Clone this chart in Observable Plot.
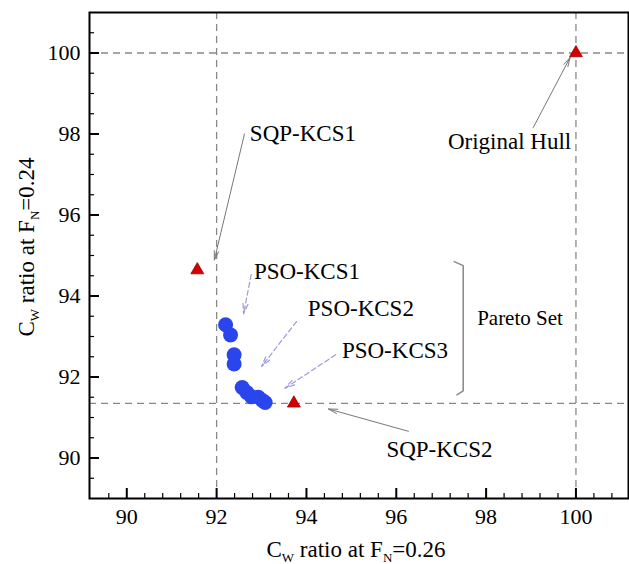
<!DOCTYPE html>
<html><head><meta charset="utf-8">
<script src="https://cdn.jsdelivr.net/npm/d3@7"></script>
<script src="https://cdn.jsdelivr.net/npm/@observablehq/plot@0.6"></script>
<style>body{margin:0;background:#fff} #chart svg{display:block}</style>
</head><body><div id="chart"></div>
<script>
// tick values
const xMajorTicks = [90, 92, 94, 96, 98, 100];
const xMinorTicks = [89.6, 90.4, 90.8, 91.2, 91.6, 92.4, 92.8, 93.2, 93.6, 94.4, 94.8, 95.2, 95.6, 96.4, 96.8, 97.2, 97.6, 98.4, 98.8, 99.2, 99.6, 100.4, 100.8];
const yMajorTicks = [90, 92, 94, 96, 98, 100];
const yMinorTicks = [89.5, 90.5, 91, 91.5, 92.5, 93, 93.5, 94.5, 95, 95.5, 96.5, 97, 97.5, 98.5, 99, 99.5, 100.5];
// reference lines
const refX = [92, 100];
const refY = [100, 91.35];
// SQP designs (red triangles)
const sqpNames = ["Original Hull", "SQP-KCS1", "SQP-KCS2"];
const sqpX = [100, 91.57, 93.72];
const sqpY = [100, 94.64, 91.35];
// PSO Pareto set (blue dots)
const psoX = [92.20, 92.31, 92.39, 92.39, 92.57, 92.67, 92.78, 92.93, 93.02, 93.08];
const psoY = [93.29, 93.04, 92.55, 92.32, 91.74, 91.62, 91.51, 91.50, 91.42, 91.37];
// annotation labels
const labelText = ["SQP-KCS1", "Original Hull", "PSO-KCS1", "PSO-KCS2", "PSO-KCS3", "SQP-KCS2"];
const labelX = [92.74, 97.15, 92.83, 94.03, 94.79, 95.78];
const labelY = [98.00, 97.82, 94.61, 93.70, 92.65, 90.20];
// solid arrows (SQP)
const sqpArrowX1 = [92.62, 99.05, 96.27];
const sqpArrowY1 = [98.00, 98.16, 90.66];
const sqpArrowX2 = [91.95, 99.87, 94.49];
const sqpArrowY2 = [94.89, 99.89, 91.21];
// dashed arrows (PSO)
const psoArrowX1 = [92.77, 93.78, 94.65];
const psoArrowY1 = [94.53, 93.37, 92.55];
const psoArrowX2 = [92.60, 93.00, 93.52];
const psoArrowY2 = [93.56, 92.26, 91.72];
// Pareto bracket
const bracketX = [97.29, 97.49, 97.49, 97.35];
const bracketY = [94.85, 94.75, 91.66, 91.56];
const paretoLabel = "Pareto Set";
const paretoX = 97.80, paretoY = 93.44;

const idx3 = [0, 1, 2];
const sqp = sqpNames.map((n, i) => ({n, x: sqpX[i], y: sqpY[i]}));
const pso = psoX.map((x, i) => ({x, y: psoY[i]}));
const labels = labelText.map((t, i) => ({t, x: labelX[i], y: labelY[i]}));
const sqpArrows = idx3.map(i => ({x1: sqpArrowX1[i], y1: sqpArrowY1[i], x2: sqpArrowX2[i], y2: sqpArrowY2[i]}));
const psoArrows = idx3.map(i => ({x1: psoArrowX1[i], y1: psoArrowY1[i], x2: psoArrowX2[i], y2: psoArrowY2[i]}));
const bracket = bracketX.map((x, i) => ({x, y: bracketY[i]}));

const plot = Plot.plot({
  width: 629, height: 564,
  marginLeft: 89, marginRight: 1, marginTop: 12, marginBottom: 66,
  style: {fontFamily: "'Liberation Serif', 'Times New Roman', serif", fontSize: "22px", background: "white", color: "black"},
  x: {domain: [89.17, 101.17], label: null},
  y: {domain: [89, 101], label: null},
  marks: [
    Plot.ruleX(refX, {stroke: "#888", strokeWidth: 1.3, strokeDasharray: "7,5"}),
    Plot.ruleY(refY, {stroke: "#888", strokeWidth: 1.3, strokeDasharray: "7,5"}),
    Plot.axisX(xMinorTicks, {tickSize: -5, tickFormat: () => "", strokeWidth: 1.2, label: null}),
    Plot.axisX(xMajorTicks, {tickSize: -10, tickPadding: 20, strokeWidth: 2, fontSize: 22, label: null}),
    Plot.axisY(yMinorTicks, {tickSize: -5, tickFormat: () => "", strokeWidth: 1.2, label: null}),
    Plot.axisY(yMajorTicks, {tickSize: -10, tickPadding: 19, strokeWidth: 2, fontSize: 22, label: null}),
    Plot.line(bracket, {x: "x", y: "y", stroke: "#888", strokeWidth: 1.5}),
    Plot.arrow(sqpArrows, {x1: "x1", y1: "y1", x2: "x2", y2: "y2", stroke: "#777", strokeWidth: 1, headLength: 14, headAngle: 28}),
    Plot.arrow(psoArrows, {x1: "x1", y1: "y1", x2: "x2", y2: "y2", stroke: "#9a9ae0", strokeWidth: 1.2, strokeDasharray: "5,3", headLength: 13, headAngle: 28}),
    Plot.dot(pso, {x: "x", y: "y", r: 7.5, fill: "#2a45ec", stroke: "none"}),
    Plot.dot(sqp, {x: "x", y: "y", r: 4.8, symbol: "triangle", fill: "#d40000", stroke: "#a00000", strokeWidth: 0.8}),
    Plot.text(labels, {x: "x", y: "y", text: "t", textAnchor: "start", lineAnchor: "middle", fontSize: 23, fill: "black"}),
    Plot.text([paretoLabel], {x: () => paretoX, y: () => paretoY, text: d => d, textAnchor: "start", lineAnchor: "middle", fontSize: 21, fill: "black"}),
    Plot.frame({stroke: "black", strokeWidth: 2})
  ]
});
document.getElementById("chart").appendChild(plot);

// axis titles with subscripts
const svg = d3.select(plot);
function title(sel, suffix) {
  sel.attr("font-family", "'Liberation Serif', 'Times New Roman', serif").attr("font-size", 23).attr("fill", "black").attr("text-anchor", "middle");
  sel.append("tspan").text("C");
  sel.append("tspan").attr("font-size", 13).attr("dy", 5).text("W");
  sel.append("tspan").attr("dy", -5).text(" ratio at F");
  sel.append("tspan").attr("font-size", 13).attr("dy", 5).text("N");
  sel.append("tspan").attr("dy", -5).text(suffix);
}
svg.append("text").attr("x", 356).attr("y", 557).call(title, "=0.26");
svg.append("text").attr("transform", "translate(34,247) rotate(-90)").call(title, "=0.24");
</script>
</body></html>
